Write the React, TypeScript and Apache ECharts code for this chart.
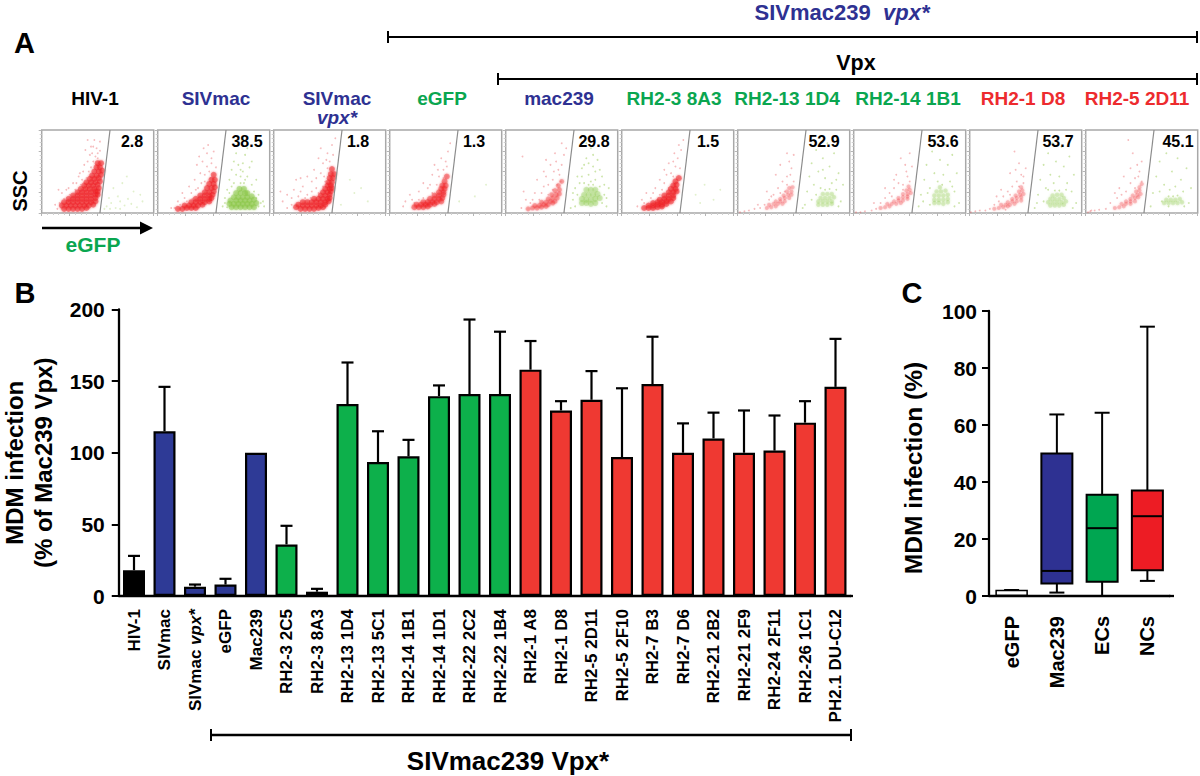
import React, { useEffect, useRef } from "react";
import * as echarts from "echarts";

// ---------- Panel B ----------
const barCategories = ["HIV-1","SIVmac","SIVmac vpx*","eGFP","Mac239","RH2-3 2C5","RH2-3 8A3","RH2-13 1D4","RH2-13 5C1","RH2-14 1B1","RH2-14 1D1","RH2-22 2C2","RH2-22 1B4","RH2-1 A8","RH2-1 D8","RH2-5 2D11","RH2-5 2F10","RH2-7 B3","RH2-7 D6","RH2-21 2B2","RH2-21 2F9","RH2-24 2F11","RH2-26 1C1","PH2.1 DU-C12"];
const barValues = [18,115,6.5,8,100,36,3,134,93.5,97.5,139.5,141,141,158,129.5,137,97,148,100,110,100,101.5,121,146];
const barTops = [28,146,8,12,100,49,5,163,115,109,147,193,184.5,178,136,157,145,181,120.5,128,129.5,126,136,179.5];
const barGroups = ["k","b","b","b","b","g","g","g","g","g","g","g","g","r","r","r","r","r","r","r","r","r","r","r"];

// ---------- Panel C ----------
const boxCategories = ["eGFP","Mac239","ECs","NCs"];
const boxLow = [0.2,1.2,0,5.3];
const boxQ1 = [0.2,4.4,5,9];
const boxMedian = [0.2,8.8,23.8,28];
const boxQ3 = [1.9,50,35.5,37];
const boxHigh = [2.2,63.7,64.3,94.5];

// ---------- Panel A ----------
const plotTitles = ["HIV-1","SIVmac","SIVmac","eGFP","mac239","RH2-3 8A3","RH2-13 1D4","RH2-14 1B1","RH2-1 D8","RH2-5 2D11"];
const plotPercents = ["2.8","38.5","1.8","1.3","29.8","1.5","52.9","53.6","53.7","45.1"];

const redCore1 = [[20,5],[24,5],[28,5],[32,5],[36,5],[40,6],[18,9],[22,9],[26,9],[30,9],[34,9],[38,9],[42,9],[46,10],[20,13],[24,13],[28,13],[32,13],[36,13],[40,13],[44,13],[48,14],[24,17],[28,17],[32,17],[36,17],[40,17],[44,17],[48,18],[28,21],[32,21],[36,21],[40,21],[44,21],[48,22],[50,22],[32,25],[36,25],[40,25],[44,25],[48,26],[50,26],[35,29],[39,29],[43,29],[47,29],[51,30],[38,33],[42,33],[46,33],[50,34],[40,37],[44,37],[48,37],[52,38],[43,41],[47,41],[51,42],[45,45],[49,45],[53,46],[47,50],[51,50],[54,51],[49,55],[52,55],[50,60],[53,60]];
const redDots1 = [[16,12],[20,17],[25,22],[30,28],[35,34],[40,42],[44,55],[48,68],[52,75],[46,80],[41,88],[52,86],[38,58],[33,44],[28,36],[22,28],[14,5],[36,40],[42,50],[46,62],[50,66],[37,50],[43,70],[49,78],[24,30],[41,62],[45,72],[15,28],[12,10],[18,24],[31,36],[34,48],[47,88],[39,76],[50,72],[44,80]];
const greenDots1 = [[58,8],[62,12],[66,6],[70,14],[74,9],[80,11],[85,7],[60,18],[68,20],[77,17],[90,14],[64,30],[72,36],[82,26],[56,5],[61,5],[70,5],[88,22],[76,44]];

const redCore2 = [[18,5],[22,5],[26,6],[30,6],[34,6],[24,9],[28,9],[32,9],[36,9],[40,10],[30,13],[34,13],[38,13],[42,13],[46,14],[34,17],[38,17],[42,17],[46,17],[48,18],[38,21],[42,21],[46,21],[49,22],[42,25],[46,25],[50,26],[44,30],[48,30],[51,31],[46,35],[50,35],[48,40],[51,40],[50,46]];
const redDots2 = [[15,6],[18,14],[24,18],[30,24],[36,30],[42,38],[46,50],[40,62],[44,72],[48,60],[52,55],[33,40],[28,32],[22,24],[38,48],[45,82],[50,74],[31,17],[47,42],[35,58],[41,78],[26,14],[20,10],[44,56],[48,66],[34,28],[39,36],[42,46],[37,68],[12,6]];
const greenCore2 = [[66,7],[70,7],[74,7],[78,7],[82,7],[86,7],[64,11],[68,11],[72,11],[76,11],[80,11],[84,11],[88,12],[65,15],[70,15],[74,15],[78,15],[82,15],[86,16],[68,19],[72,19],[76,19],[80,19],[84,20],[70,24],[74,24],[78,24],[80,24],[73,29],[77,29]];
const greenDots2 = [[58,8],[60,18],[62,28],[64,40],[66,52],[68,62],[70,72],[72,82],[74,52],[76,60],[78,70],[80,44],[82,55],[84,34],[86,26],[88,18],[92,12],[95,8],[64,24],[90,22],[70,46],[75,88],[80,78],[66,32],[84,62],[78,40],[72,58],[68,36],[88,40],[94,14],[60,12],[76,50],[74,36],[77,36],[74,44],[90,8],[62,7]];

const redCore3 = [[20,7],[24,5],[28,5],[32,5],[36,5],[40,6],[44,7],[22,10],[26,9],[30,9],[34,9],[38,9],[42,9],[46,10],[26,13],[30,13],[34,13],[38,13],[42,13],[46,13],[49,14],[36,17],[40,17],[44,17],[48,17],[50,18],[42,21],[46,21],[50,22],[44,25],[48,25],[51,26],[46,29],[50,29],[52,30],[48,33],[51,33],[49,37],[52,37],[50,42],[53,42],[51,47],[54,47],[52,53]];
const redDots3 = [[8,14],[12,22],[16,10],[18,28],[22,20],[26,32],[30,22],[34,38],[38,30],[42,48],[36,52],[44,60],[48,72],[52,82],[55,90],[50,62],[40,66],[46,38],[30,44],[24,42],[20,40],[12,6],[33,18],[40,24],[44,32],[48,54],[42,78],[6,26],[28,18],[38,42],[16,18],[24,26],[34,26],[45,44],[47,64],[53,70]];
const greenDots3 = [[60,10],[72,24],[84,14],[68,40],[78,30]];

const redCore4 = [[22,7],[26,7],[30,7],[34,8],[24,10],[28,10],[32,10],[36,10],[40,11],[30,13],[34,13],[38,13],[42,13],[46,14],[36,17],[40,17],[44,17],[47,18],[40,21],[44,21],[48,22],[44,25],[48,25],[46,29],[49,29],[47,33],[50,33],[49,38],[51,44]];
const redDots4 = [[14,14],[18,22],[22,12],[26,26],[30,18],[34,30],[38,24],[42,34],[44,44],[48,52],[50,62],[52,74],[54,84],[46,66],[38,46],[30,36],[12,8],[40,58],[34,16],[26,16],[48,42],[20,16],[36,34],[43,52],[51,56]];
const greenDots4 = [[62,14],[76,20],[86,34]];

const redCore5 = [[20,5],[24,6],[28,6],[32,7],[36,8],[26,9],[30,9],[34,10],[38,10],[42,12],[32,13],[36,13],[40,14],[44,14],[38,17],[42,18],[46,18],[41,22],[45,22],[48,23],[44,27],[48,28],[47,33],[50,38]];
const redDots5 = [[14,6],[18,16],[16,26],[22,12],[26,24],[30,16],[34,32],[38,22],[42,40],[46,34],[48,46],[50,58],[52,70],[54,78],[45,62],[40,58],[34,50],[28,40],[44,72],[50,84],[36,64],[42,28],[38,34],[49,38],[43,50],[15,68],[24,16],[32,24],[47,52],[36,44]];
const greenCore5 = [[68,12],[72,12],[76,11],[80,12],[68,17],[72,16],[76,16],[80,17],[84,18],[70,22],[74,22],[78,22],[82,23],[72,28],[76,28],[80,28]];
const greenDots5 = [[58,6],[60,16],[62,30],[64,44],[68,54],[70,36],[72,66],[74,46],[76,78],[78,56],[80,40],[82,64],[84,32],[86,12],[88,22],[90,8],[92,30],[64,22],[86,44],[78,70],[70,58],[66,36],[72,84],[84,52],[62,8],[90,18],[76,38],[74,60],[80,50],[68,44],[88,34],[60,24],[74,34],[78,34]];

const redCore6 = [[20,6],[24,6],[28,6],[32,7],[36,8],[24,9],[28,9],[32,10],[36,10],[40,11],[28,12],[32,13],[36,13],[40,14],[44,14],[34,16],[38,17],[42,17],[46,18],[38,21],[42,21],[46,21],[42,25],[46,25],[49,26],[44,29],[48,29],[46,33],[49,34],[48,38],[51,42]];
const redDots6 = [[14,8],[18,16],[22,24],[26,18],[30,30],[34,22],[38,36],[42,30],[44,48],[48,56],[50,66],[53,76],[55,88],[46,62],[40,46],[34,40],[46,44],[52,54],[42,60],[20,12],[28,24],[36,28],[47,72],[38,52],[51,82]];
const greenDots6 = [[66,22],[74,34],[82,16],[88,28],[70,12]];

const redCore7 = [[26,6],[30,7],[34,8],[28,10],[32,11],[36,11],[40,11],[34,14],[38,14],[42,14],[38,17],[42,18],[46,18],[41,21],[45,22],[48,22],[44,26],[48,26],[46,30],[49,31]];
const redDots7 = [[2,1],[6,2],[10,3],[15,5],[20,6],[24,10],[28,16],[32,22],[36,30],[40,38],[44,44],[48,54],[50,38],[46,62],[42,26],[26,26],[34,46],[50,70],[44,72],[38,58],[18,10],[30,20],[38,24],[44,34],[47,46]];
const greenCore7 = [[72,10],[76,10],[80,10],[84,11],[72,14],[76,14],[80,14],[84,14],[74,18],[78,18],[82,18],[86,19],[76,23],[80,23],[84,23]];
const greenDots7 = [[60,10],[62,26],[64,44],[66,60],[68,34],[70,76],[72,50],[74,30],[76,66],[78,42],[80,84],[82,56],[84,36],[86,72],[88,28],[90,48],[92,14],[94,34],[66,16],[58,6],[90,8],[76,52],[70,22],[88,40],[78,28],[82,29]];

const redCore8 = [[24,6],[28,7],[32,8],[30,11],[34,11],[38,11],[42,12],[36,14],[40,15],[44,15],[48,17],[40,18],[44,19],[48,20],[44,23],[48,23],[51,24],[47,27],[50,28],[49,32]];
const redDots8 = [[2,1],[6,1],[10,2],[16,3],[20,5],[24,12],[28,18],[32,24],[36,30],[40,36],[44,34],[48,44],[50,38],[52,56],[46,58],[38,46],[18,12],[42,66],[50,72],[28,30],[34,20],[44,28],[47,50],[36,40]];
const greenCore8 = [[72,12],[76,12],[80,11],[84,13],[72,16],[76,16],[80,16],[84,17],[72,21],[76,21],[80,21],[84,22],[74,26],[78,26],[82,27],[77,31]];
const greenDots8 = [[58,8],[60,22],[63,40],[65,58],[68,30],[70,74],[72,48],[75,38],[77,64],[80,46],[82,82],[84,58],[86,38],[88,70],[90,26],[92,48],[94,12],[68,10],[90,8],[62,14],[72,88],[66,24],[88,32],[79,34]];

const redCore9 = [[22,5],[26,6],[30,7],[34,8],[28,10],[32,10],[36,10],[40,11],[34,13],[38,14],[42,14],[46,15],[38,17],[42,18],[46,19],[41,21],[45,22],[48,23],[44,26],[47,27],[46,31]];
const redDots9 = [[1,1],[5,2],[9,3],[14,3],[18,5],[22,10],[26,14],[30,20],[34,26],[38,32],[42,38],[46,46],[48,36],[50,54],[44,60],[40,74],[36,48],[28,28],[32,4],[24,20],[36,22],[44,32],[48,44],[41,52]];
const greenCore9 = [[72,9],[76,9],[80,9],[84,10],[70,13],[74,13],[78,13],[82,13],[86,14],[72,17],[76,17],[80,17],[84,18],[74,21],[78,22],[82,22]];
const greenDots9 = [[58,6],[61,22],[63,40],[66,58],[68,30],[70,72],[72,46],[75,36],[77,62],[80,44],[82,80],[84,56],[87,36],[89,68],[91,26],[93,46],[95,12],[66,14],[92,6],[60,12],[74,84],[70,28],[86,28],[76,27],[80,27]];

const redCore10 = [[26,6],[30,7],[34,8],[32,11],[36,11],[40,11],[36,14],[40,14],[44,14],[40,17],[44,18],[47,19],[42,21],[46,22],[49,23],[45,26],[48,27],[48,31],[50,35]];
const redDots10 = [[2,1],[4,2],[8,3],[12,4],[18,5],[22,12],[28,18],[32,22],[36,26],[40,36],[44,42],[48,50],[50,38],[46,58],[42,72],[38,88],[34,44],[50,62],[30,30],[44,30],[40,54],[5,3],[26,24],[47,44]];
const greenCore10 = [[70,12],[74,12],[78,12],[82,12],[86,13],[72,16],[76,16],[80,16],[84,17]];
const greenDots10 = [[58,8],[60,24],[63,44],[66,62],[68,14],[70,34],[72,72],[75,28],[77,50],[80,32],[82,66],[85,40],[87,26],[90,54],[92,12],[94,30],[66,26],[74,8],[88,8],[74,20],[78,20],[82,21]];

const redCores = [redCore1,redCore2,redCore3,redCore4,redCore5,redCore6,redCore7,redCore8,redCore9,redCore10];
const redDots = [redDots1,redDots2,redDots3,redDots4,redDots5,redDots6,redDots7,redDots8,redDots9,redDots10];
const greenCores = [[],greenCore2,[],[],greenCore5,[],greenCore7,greenCore8,greenCore9,greenCore10];
const greenDots = [greenDots1,greenDots2,greenDots3,greenDots4,greenDots5,greenDots6,greenDots7,greenDots8,greenDots9,greenDots10];
const gateLine = [[52,0],[61,100]];

// ---------- Styling ----------
const FONT = '"Liberation Sans", Arial, sans-serif';
const NAVY = "#2e3192";
const GREEN = "#0aa650";
const RED = "#ed2b2e";
const barFill: Record<string,string> = { k: "#000000", b: "#2e3a96", g: "#0db04b", r: "#ef3932" };
const boxFill = ["#ffffff","#2e3192","#00a651","#ed1c24"];
const titleX = [95,216,337,442,559,674,787,908,1023,1137];
const titleColor = ["#000",NAVY,NAVY,GREEN,NAVY,GREEN,GREEN,GREEN,RED,RED];
const percentX = [132,247,358,474,594,708,824,943,1058,1178];
const plotLeft = (i: number) => 41.7 + 116 * i;

function text(t: string, x: number, y: number, size: number, fill = "#000", rotation = 0, extra: any = {}) {
  return {
    type: "text", x, y, rotation, silent: true, z: 50,
    style: { text: t, x: 0, y: 0, align: "center", verticalAlign: "middle", fontFamily: FONT, fontWeight: "bold", fontSize: size, fill, ...extra },
  };
}
function seg(x1: number, y1: number, x2: number, y2: number, w = 2) {
  return { type: "line", silent: true, z: 50, shape: { x1, y1, x2, y2 }, style: { stroke: "#000", lineWidth: w } };
}
function bracket(x1: number, x2: number, y: number, cap: number, w = 2) {
  return [seg(x1, y, x2, y, w), seg(x1, y - cap, x1, y + cap, 2), seg(x2, y - cap, x2, y + cap, 2)];
}

function buildOption() {
  const grid: any[] = [];
  const xAxis: any[] = [];
  const yAxis: any[] = [];
  const series: any[] = [];

  plotTitles.forEach((_, i) => {
    grid.push({ left: plotLeft(i), top: 130, width: 112, height: 83, outerBoundsMode: "none", show: true, borderColor: "#a8a8a8", borderWidth: 1.5, backgroundColor: "#fff" });
    const ax = {
      gridIndex: i, type: "value", min: 0, max: 100, interval: 25,
      axisLine: { show: false }, splitLine: { show: false }, axisLabel: { show: false },
      axisTick: { show: true, length: 3, lineStyle: { color: "#b5b5b5", width: 1 } },
      minorTick: { show: true, splitNumber: 5, length: 2, lineStyle: { color: "#cfcfcf", width: 1 } },
    };
    xAxis.push({ ...ax });
    yAxis.push({ ...ax });
    const add = (data: number[][], color: string, size: number, opacity: number, blur = 0) => {
      series.push({ type: "scatter", xAxisIndex: i, yAxisIndex: i, data, symbolSize: size, silent: true, itemStyle: { color, opacity, borderWidth: 0, shadowBlur: blur, shadowColor: color } });
    };
    const pale = i >= 6;
    const mid = i === 4;
    add(redCores[i], "#ee2226", pale ? 4 : mid ? 5 : 6, pale ? 0.22 : mid ? 0.3 : i === 3 ? 0.38 : 0.45, 2.5);
    add(redDots[i], "#e8555a", 1.8, 0.4);
    add(greenCores[i], "#86c440", pale ? 4.5 : 6, pale ? 0.22 : i === 1 ? 0.42 : 0.28, 2.5);
    add(greenDots[i], "#9ccc55", 1.8, i === 0 || i === 2 || i === 3 || i === 5 ? 0.3 : 0.5);
    series.push({ type: "line", xAxisIndex: i, yAxisIndex: i, data: gateLine, symbol: "none", silent: true, lineStyle: { color: "#8c8c8c", width: 1.2 } });
  });

  const B = plotTitles.length;
  const C = B + 1;
  grid.push({ left: 118.75, top: 309.5, width: 732, height: 286.5, outerBoundsMode: "none" });
  grid.push({ left: 989, top: 311, width: 181, height: 285, outerBoundsMode: "none" });

  xAxis.push({
    gridIndex: B, type: "category", data: barCategories,
    axisLine: { lineStyle: { color: "#000", width: 2.3 } },
    axisTick: { alignWithLabel: true, length: 6, lineStyle: { color: "#000", width: 2 } },
    axisLabel: {
      interval: 0, rotate: 90, margin: 13, color: "#000", fontFamily: FONT, fontWeight: "bold", fontSize: 17,
      formatter: (v: string) => v === "SIVmac vpx*" ? "{n|SIVmac }{i|vpx*}" : v,
      rich: {
        n: { fontFamily: FONT, fontWeight: "bold", fontSize: 17, color: "#000" },
        i: { fontFamily: FONT, fontWeight: "bold", fontStyle: "italic", fontSize: 17, color: "#000" },
      },
    },
  });
  yAxis.push({
    gridIndex: B, type: "value", min: 0, max: 200, interval: 50,
    name: "MDM infection\n(% of Mac239 Vpx)", nameLocation: "middle", nameRotate: 90, nameGap: 61,
    nameTextStyle: { fontFamily: FONT, fontWeight: "bold", fontSize: 24, lineHeight: 29, color: "#000", padding: [0, 20, 0, 0] },
    axisLine: { show: true, lineStyle: { color: "#000", width: 2.3 } },
    axisTick: { show: true, length: 7, lineStyle: { color: "#000", width: 2 } },
    splitLine: { show: false },
    axisLabel: { margin: 14, color: "#000", fontFamily: FONT, fontWeight: "bold", fontSize: 21 },
  });
  xAxis.push({
    gridIndex: C, type: "category", data: boxCategories,
    axisLine: { lineStyle: { color: "#000", width: 2.3 } },
    axisTick: { alignWithLabel: true, length: 9, lineStyle: { color: "#000", width: 2 } },
    axisLabel: { interval: 0, rotate: 90, margin: 20, color: "#000", fontFamily: FONT, fontWeight: "bold", fontSize: 20 },
  });
  yAxis.push({
    gridIndex: C, type: "value", min: 0, max: 100, interval: 20,
    name: "MDM infection (%)", nameLocation: "middle", nameRotate: 90, nameGap: 63,
    nameTextStyle: { fontFamily: FONT, fontWeight: "bold", fontSize: 24.5, color: "#000", padding: [0, 29, 0, 0] },
    axisLine: { show: true, lineStyle: { color: "#000", width: 2.3 } },
    axisTick: { show: true, length: 7, lineStyle: { color: "#000", width: 2 } },
    splitLine: { show: false },
    axisLabel: { margin: 12, color: "#000", fontFamily: FONT, fontWeight: "bold", fontSize: 21 },
  });

  series.push({
    type: "bar", xAxisIndex: B, yAxisIndex: B, barWidth: 22, silent: true,
    data: barValues.map((v, i) => ({ value: v, itemStyle: { color: barFill[barGroups[i]], borderColor: "#000", borderWidth: 2.2 } })),
  });
  series.push({
    type: "custom", xAxisIndex: B, yAxisIndex: B, silent: true, z: 1, clip: false,
    data: barValues.map((v, i) => [i, v, barTops[i]]),
    encode: { x: 0, y: [1, 2] },
    renderItem: (_: any, api: any) => {
      const [x, y0] = api.coord([api.value(0), api.value(1)]);
      const [, y1] = api.coord([api.value(0), api.value(2)]);
      if (api.value(2) <= api.value(1)) return { type: "group", children: [] };
      const style = { stroke: "#000", lineWidth: 2.2, fill: "none" };
      return {
        type: "group",
        children: [
          { type: "line", shape: { x1: x, y1: y0, x2: x, y2: y1 }, style },
          { type: "line", shape: { x1: x - 6, y1, x2: x + 6, y2: y1 }, style },
        ],
      };
    },
  });
  series.push({
    type: "custom", xAxisIndex: C, yAxisIndex: C, silent: true, z: 5, clip: false,
    data: boxCategories.map((_, i) => [i, boxLow[i], boxQ1[i], boxMedian[i], boxQ3[i], boxHigh[i]]),
    encode: { x: 0, y: [1, 2, 3, 4, 5] },
    renderItem: (params: any, api: any) => {
      const i = api.value(0);
      const px = (k: number) => api.coord([i, api.value(k)]);
      const [x, lo] = px(1);
      const q1 = px(2)[1], med = px(3)[1], q3 = px(4)[1], hi = px(5)[1];
      const hw = 15.5, cap = 7.5;
      const lw = params.dataIndex === 0 ? 1.5 : 2;
      const s = { stroke: "#000", lineWidth: lw, fill: "none" };
      return {
        type: "group",
        children: [
          { type: "line", shape: { x1: x, y1: lo, x2: x, y2: hi }, style: s },
          { type: "line", shape: { x1: x - cap, y1: lo, x2: x + cap, y2: lo }, style: s },
          { type: "line", shape: { x1: x - cap, y1: hi, x2: x + cap, y2: hi }, style: s },
          { type: "rect", shape: { x: x - hw, y: q3, width: hw * 2, height: q1 - q3 }, style: { fill: boxFill[params.dataIndex], stroke: "#000", lineWidth: lw } },
          { type: "line", shape: { x1: x - hw, y1: med, x2: x + hw, y2: med }, style: s },
        ],
      };
    },
  });

  const graphic: any[] = [
    text("A", 24.5, 43, 29),
    text("B", 25, 293, 29),
    text("C", 912, 293, 29),
    text("SSC", 20, 191, 20, "#000", Math.PI / 2),
    seg(42, 228, 141, 228, 2.5),
    { type: "polygon", silent: true, z: 50, shape: { points: [[140, 221.5], [153, 228], [140, 234.5]] }, style: { fill: "#000" } },
    text("eGFP", 93, 244, 21, GREEN),
    ...plotTitles.map((t, i) => text(t, titleX[i], 98, 19, titleColor[i])),
    text("vpx*", 337, 117, 19, NAVY, 0, { fontStyle: "italic" }),
    ...plotPercents.map((t, i) => text(t, percentX[i], 141, 16)),
    ...bracket(388, 1197, 37, 6),
    ...bracket(498, 1197, 79, 6),
    {
      type: "text", x: 842, y: 12, silent: true, z: 50,
      style: {
        text: "{a|SIVmac239  }{b|vpx*}", x: 0, y: 0, align: "center", verticalAlign: "middle",
        rich: {
          a: { fontFamily: FONT, fontWeight: "bold", fontSize: 22, fill: NAVY, color: NAVY },
          b: { fontFamily: FONT, fontWeight: "bold", fontStyle: "italic", fontSize: 22, fill: NAVY, color: NAVY },
        },
      },
    },
    text("Vpx", 856, 63, 21.5),
    ...bracket(211, 851, 735, 6, 2.5),
    text("SIVmac239 Vpx*", 508, 761, 26),
    seg(850, 596, 853, 596, 2.3),
    seg(1169, 596, 1174, 596, 2.3),
  ];

  return { animation: false, backgroundColor: "#ffffff", tooltip: { show: false }, grid, xAxis, yAxis, series, graphic };
}

export default function App() {
  const ref = useRef<HTMLDivElement>(null);
  useEffect(() => {
    document.body.style.margin = "0";
    const chart = echarts.init(ref.current!, undefined, { renderer: "svg" });
    chart.setOption(buildOption() as any);
    return () => chart.dispose();
  }, []);
  return <div ref={ref} style={{ width: 1200, height: 776, background: "#fff" }} />;
}
